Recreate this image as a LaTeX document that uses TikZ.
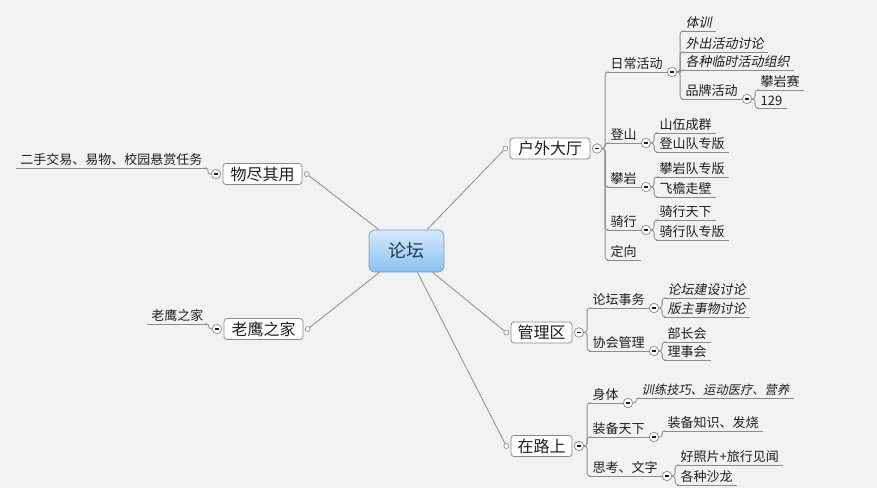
\documentclass[tikz,border=0pt]{standalone}
\usepackage{fontspec}
\setmainfont{Noto Sans CJK SC}
\newfontfamily\cjkit[FakeSlant=0.2]{Noto Sans CJK SC}
\definecolor{bg}{HTML}{F2F2F2}
\definecolor{lc}{HTML}{8C8C8C}
\definecolor{boxb}{HTML}{8A8A8A}
\definecolor{tc}{HTML}{1E1E1E}
\definecolor{rtop}{HTML}{D4E9FC}
\definecolor{rbot}{HTML}{88C1F3}
\definecolor{rootb}{HTML}{7F9DBA}
\definecolor{roottext}{HTML}{2A3A4C}
\tikzset{
  lnk/.style={draw=lc, line width=0.8pt},
  conn/.style={draw=lc, line width=0.8pt, rounded corners=3pt},
  connone/.style={draw=lc, line width=0.8pt, rounded corners=2.4pt},
  rootbox/.style={draw=rootb, line width=0.8pt, rounded corners=6pt, top color=rtop, bottom color=rbot,
    minimum width=75pt, minimum height=42pt, inner sep=0pt, font=\fontsize{18}{20}\selectfont, text=roottext},
  mainbox/.style={draw=boxb, line width=0.8pt, fill=white, rounded corners=3pt, minimum height=21pt,
    inner sep=0pt, font=\fontsize{16}{18}\selectfont, text=tc},
  sub/.style={anchor=south west, inner xsep=4pt, inner ysep=2.5pt, font=\fontsize{13}{15}\selectfont, text=tc,
    append after command={(\tikzlastnode.south west) edge[lnk] (\tikzlastnode.south east)}},
  subl/.style={sub, anchor=south east},
  itx/.style={font=\fontsize{13}{15}\selectfont\cjkit},
  col/.style={circle, draw=boxb, fill=white, line width=0.7pt, minimum size=9.5pt, inner sep=0pt,
    path picture={\draw[line width=1.2pt, draw=tc] ([xshift=-2.4pt]path picture bounding box.center) -- ([xshift=2.4pt]path picture bounding box.center);}},
  attach/.style={circle, draw=boxb, fill=white, line width=0.6pt, minimum size=5pt, inner sep=0pt},
}
\begin{document}
\begin{tikzpicture}[x=1pt, y=-1pt]
\useasboundingbox (0,0) rectangle (877,488);
\fill[bg] (0,0) rectangle (877,488);

% root
\node[rootbox] (root) at (406.5,251) {论坛};

% main topics
\node[mainbox, minimum width=80pt] (hw) at (550,148.5) {户外大厅};
\node[mainbox, minimum width=79pt] (wj) at (262.5,174) {物尽其用};
\node[mainbox, minimum width=79pt] (ly) at (263.5,329) {老鹰之家};
\node[mainbox, minimum width=61pt] (gl) at (541.5,332.5) {管理区};
\node[mainbox, minimum width=61pt] (zl) at (541.5,446) {在路上};

\node[attach, anchor=east] (hw-a) at ([xshift=-1.5pt]hw.west) {};
\node[attach, anchor=east] (gl-a) at ([xshift=-1.5pt]gl.west) {};
\node[attach, anchor=east] (zl-a) at ([xshift=-1.5pt]zl.west) {};
\node[attach, anchor=west] (wj-a) at ([xshift=1.5pt]wj.east) {};
\node[attach, anchor=west] (ly-a) at ([xshift=1.5pt]ly.east) {};

\node[col, anchor=west] (hw-c) at ([xshift=1.5pt]hw.east) {};
\node[col, anchor=west] (gl-c) at ([xshift=1.5pt]gl.east) {};
\node[col, anchor=west] (zl-c) at ([xshift=1.5pt]zl.east) {};
\node[col, anchor=east] (wj-c) at ([xshift=-1.5pt]wj.west) {};
\node[col, anchor=east] (ly-c) at ([xshift=-1.5pt]ly.west) {};

\foreach \t in {hw,wj,ly,gl,zl} \draw[lnk] (root) -- (\t-a);

% 户外大厅
\node[sub] (rc) at (606.5,72) {日常活动};
\node[sub] (ds) at (606.5,143) {登山};
\node[sub] (py) at (606.5,187) {攀岩};
\node[sub] (qx) at (606.5,230) {骑行};
\node[sub] (dx) at (606.5,260) {定向};
\foreach \t in {rc,ds,py,qx,dx} \draw[conn] (hw-c.east) -- ++(3,0) |- (\t.south west);

\node[col, anchor=west] (rc-c) at (rc.south east) {};
\node[col, anchor=west] (ds-c) at (ds.south east) {};
\node[col, anchor=west] (py-c) at (py.south east) {};
\node[col, anchor=west] (qx-c) at (qx.south east) {};

\node[sub, itx] (tx) at (681.5,31) {体训};
\node[sub, itx] (wc) at (681.5,52) {外出活动讨论};
\node[sub, itx] (gz) at (681.5,70) {各种临时活动组织};
\node[sub] (pp) at (681.5,99) {品牌活动};
\foreach \t in {tx,wc,gz,pp} \draw[conn] (rc-c.east) -- ++(3,0) |- (\t.south west);
\node[col, anchor=west] (pp-c) at (pp.south east) {};

\node[sub] (pys) at (756.5,90) {攀岩赛};
\node[sub] (n129) at (756.5,108) {129};
\foreach \t in {pys,n129} \draw[conn] (pp-c.east) -- ++(3,0) |- (\t.south west);

\node[sub] (sw) at (655.5,133) {山伍成群};
\node[sub] (dsb) at (655.5,152) {登山队专版};
\foreach \t in {sw,dsb} \draw[conn] (ds-c.east) -- ++(3,0) |- (\t.south west);

\node[sub] (pyb) at (655.5,177) {攀岩队专版};
\node[sub] (fy) at (655.5,197) {飞檐走壁};
\foreach \t in {pyb,fy} \draw[conn] (py-c.east) -- ++(3,0) |- (\t.south west);

\node[sub] (qxt) at (655.5,220) {骑行天下};
\node[sub] (qxb) at (655.5,240) {骑行队专版};
\foreach \t in {qxt,qxb} \draw[conn] (qx-c.east) -- ++(3,0) |- (\t.south west);

% 管理区
\node[sub] (lt) at (588.5,308) {论坛事务};
\node[sub] (xh) at (588.5,351) {协会管理};
\foreach \t in {lt,xh} \draw[conn] (gl-c.east) -- ++(3,0) |- (\t.south west);
\node[col, anchor=west] (lt-c) at (lt.south east) {};
\node[col, anchor=west] (xh-c) at (xh.south east) {};

\node[sub, itx] (ltjs) at (663.5,298) {论坛建设讨论};
\node[sub, itx] (bz) at (663.5,317) {版主事物讨论};
\foreach \t in {ltjs,bz} \draw[conn] (lt-c.east) -- ++(3,0) |- (\t.south west);

\node[sub] (bzh) at (663.5,342) {部长会};
\node[sub] (lsh) at (663.5,360) {理事会};
\foreach \t in {bzh,lsh} \draw[conn] (xh-c.east) -- ++(3,0) |- (\t.south west);

% 在路上
\node[sub] (st) at (588.5,403) {身体};
\node[sub] (zb) at (588.5,437) {装备天下};
\node[sub] (sk) at (588.5,476) {思考、文字};
\foreach \t in {st,zb,sk} \draw[conn] (zl-c.east) -- ++(3,0) |- (\t.south west);
\node[col, anchor=west] (st-c) at (st.south east) {};
\node[col, anchor=west] (zb-c) at (zb.south east) {};
\node[col, anchor=west] (sk-c) at (sk.south east) {};

\node[sub, font=\fontsize{12.3}{14}\selectfont\cjkit] (xl) at (637.5,398) {训练技巧、运动医疗、营养};
\draw[connone] (st-c.east) -- ++(3,0) |- (xl.south west);

\node[sub] (zbzs) at (663.5,431) {装备知识、发烧};
\draw[connone] (zb-c.east) -- ++(3,0) |- (zbzs.south west);

\node[sub] (hzp) at (676.5,465) {好照片+旅行见闻};
\node[sub] (gzsl) at (676.5,485) {各种沙龙};
\foreach \t in {hzp,gzsl} \draw[conn] (sk-c.east) -- ++(3,0) |- (\t.south west);

% left side
\node[subl] (es) at (206.5,168) {二手交易、易物、校园悬赏任务};
\draw[connone] (wj-c.west) -- ++(-3,0) |- (es.south east);

\node[subl] (lyl) at (207.5,324) {老鹰之家};
\draw[connone] (ly-c.west) -- ++(-3,0) |- (lyl.south east);
\end{tikzpicture}
\end{document}
